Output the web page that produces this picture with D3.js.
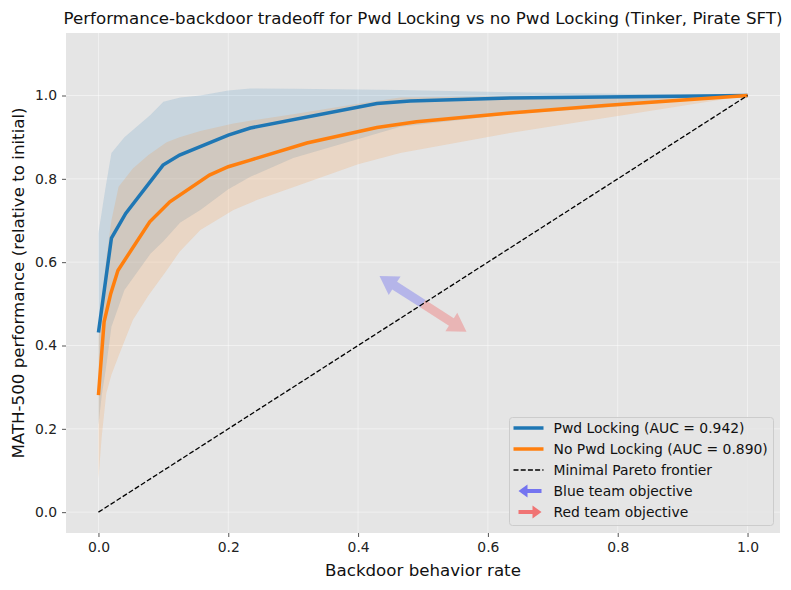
<!DOCTYPE html>
<html>
<head>
<meta charset="utf-8">
<script src="https://cdn.jsdelivr.net/npm/d3@7"></script>
<style>
  body { margin: 0; background: #fff; }
  text { font-family: "DejaVu Sans", sans-serif; }
</style>
</head>
<body>
<svg id="chart" width="791" height="590"></svg>
<script>
// --- data ---
var pwdX = [0, 0.02, 0.042, 0.0995, 0.125, 0.2, 0.234, 0.429, 0.48, 0.634, 1.0];
var pwdY = [0.431, 0.658, 0.717, 0.833, 0.857, 0.905, 0.922, 0.981, 0.987, 0.994, 1.0];
var pwdBandX = [0, 0.005, 0.011, 0.02, 0.04, 0.08, 0.1, 0.126, 0.157, 0.2, 0.234, 0.3, 0.465, 0.634, 0.772, 1.0];
var pwdBandHi = [0.67, 0.72, 0.78, 0.862, 0.90, 0.953, 0.985, 0.995, 1.0, 1.012, 1.017, 1.016, 1.013, 1.008, 1.005, 1.0];
var pwdBandLo = [0.21, 0.28, 0.34, 0.445, 0.533, 0.62, 0.65, 0.695, 0.725, 0.775, 0.805, 0.85, 0.925, 0.955, 0.97, 1.0];

var noPwdX = [0, 0.0087, 0.019, 0.03, 0.079, 0.11, 0.171, 0.2, 0.234, 0.321, 0.429, 0.49, 0.634, 0.78, 1.0];
var noPwdY = [0.281, 0.457, 0.525, 0.58, 0.697, 0.745, 0.809, 0.829, 0.845, 0.886, 0.923, 0.937, 0.958, 0.976, 1.0];
var noPwdBandX = [0, 0.005, 0.012, 0.02, 0.031, 0.053, 0.077, 0.105, 0.125, 0.157, 0.208, 0.244, 0.3, 0.4, 0.465, 0.634, 1.0];
var noPwdBandHi = [0.42, 0.49, 0.61, 0.70, 0.781, 0.825, 0.857, 0.888, 0.90, 0.915, 0.933, 0.942, 0.955, 0.98, 0.995, 0.998, 1.0];
var noPwdBandLo = [0.08, 0.181, 0.285, 0.33, 0.375, 0.461, 0.52, 0.58, 0.625, 0.677, 0.725, 0.749, 0.78, 0.835, 0.862, 0.91, 1.0];

var frontierX = [0, 1];
var frontierY = [0, 1];

var arrowStart = [0.5, 0.5];
var blueArrowEnd = [0.433, 0.567];
var redArrowEnd = [0.567, 0.433];

var xTicks = [0, 0.2, 0.4, 0.6, 0.8, 1.0];
var yTicks = [0, 0.2, 0.4, 0.6, 0.8, 1.0];

var legendLabels = ["Pwd Locking (AUC = 0.942)", "No Pwd Locking (AUC = 0.890)",
  "Minimal Pareto frontier", "Blue team objective", "Red team objective"];

// --- layout ---
var margin = { top: 33, right: 11, bottom: 57, left: 66 },
  width = 791 - margin.left - margin.right,
  height = 590 - margin.top - margin.bottom;

var blue = "#1f77b4", orange = "#ff7f0e";
var arrowBlue = "#6e6ef0", arrowRed = "#f06e6e";

var svg = d3.select("#chart");
var g = svg.append("g").attr("transform", "translate(" + margin.left + "," + margin.top + ")");

var x = d3.scaleLinear().domain([-0.05, 1.05]).range([0, width]);
var y = d3.scaleLinear().domain([-0.05, 1.15]).range([height, 0]);

// background + grid
g.append("rect").attr("width", width).attr("height", height).attr("fill", "#e5e5e5");

g.selectAll(".vgrid").data(xTicks).enter().append("line")
  .attr("x1", d => x(d)).attr("x2", d => x(d))
  .attr("y1", 0).attr("y2", height)
  .attr("stroke", "#fff").attr("stroke-opacity", 0.45).attr("stroke-width", 1);
g.selectAll(".hgrid").data(yTicks).enter().append("line")
  .attr("y1", d => y(d)).attr("y2", d => y(d))
  .attr("x1", 0).attr("x2", width)
  .attr("stroke", "#fff").attr("stroke-opacity", 0.45).attr("stroke-width", 1);

// bands
var area = d3.area().x(d => x(d[0])).y0(d => y(d[1])).y1(d => y(d[2]));
g.append("path")
  .attr("d", area(pwdBandX.map((v, i) => [v, pwdBandLo[i], pwdBandHi[i]])))
  .attr("fill", blue).attr("fill-opacity", 0.15);
g.append("path")
  .attr("d", area(noPwdBandX.map((v, i) => [v, noPwdBandLo[i], noPwdBandHi[i]])))
  .attr("fill", orange).attr("fill-opacity", 0.15);

// fat arrow polygon in pixel space
function arrowPoints(x0, y0, x1, y1, shaft, headW, headL) {
  var dx = x1 - x0, dy = y1 - y0, len = Math.sqrt(dx * dx + dy * dy);
  var ux = dx / len, uy = dy / len, px = -uy, py = ux;
  var bx = x1 - ux * headL, by = y1 - uy * headL;
  var s = shaft / 2, h = headW / 2;
  return [
    [x0 + px * s, y0 + py * s], [bx + px * s, by + py * s], [bx + px * h, by + py * h],
    [x1, y1],
    [bx - px * h, by - py * h], [bx - px * s, by - py * s], [x0 - px * s, y0 - py * s]
  ].map(p => p.join(",")).join(" ");
}

g.append("polygon")
  .attr("points", arrowPoints(x(arrowStart[0]), y(arrowStart[1]), x(blueArrowEnd[0]), y(blueArrowEnd[1]), 9, 22, 18))
  .attr("fill", arrowBlue).attr("fill-opacity", 0.4);
g.append("polygon")
  .attr("points", arrowPoints(x(arrowStart[0]), y(arrowStart[1]), x(redArrowEnd[0]), y(redArrowEnd[1]), 9, 22, 18))
  .attr("fill", arrowRed).attr("fill-opacity", 0.4);

// lines
var line = d3.line().x(d => x(d[0])).y(d => y(d[1]));
g.append("path")
  .attr("d", line(pwdX.map((v, i) => [v, pwdY[i]])))
  .attr("fill", "none").attr("stroke", blue).attr("stroke-width", 3.5);
g.append("path")
  .attr("d", line(noPwdX.map((v, i) => [v, noPwdY[i]])))
  .attr("fill", "none").attr("stroke", orange).attr("stroke-width", 3.5);
g.append("path")
  .attr("d", line(frontierX.map((v, i) => [v, frontierY[i]])))
  .attr("fill", "none").attr("stroke", "#000").attr("stroke-width", 1.3)
  .attr("stroke-dasharray", "5,2.2");

// axes
var xAxis = g.append("g").attr("transform", "translate(0," + height + ")")
  .call(d3.axisBottom(x).tickValues(xTicks).tickFormat(d3.format(".1f")).tickSize(4).tickPadding(5));
var yAxis = g.append("g")
  .call(d3.axisLeft(y).tickValues(yTicks).tickFormat(d3.format(".1f")).tickSize(4).tickPadding(5));
[xAxis, yAxis].forEach(function (ax) {
  ax.select(".domain").remove();
  ax.selectAll(".tick line").attr("stroke", "#555");
  ax.selectAll(".tick text").attr("fill", "#222").style("font-size", "13.9px")
    .style("font-family", "DejaVu Sans, sans-serif");
});

// labels
svg.append("text")
  .attr("x", margin.left + width / 2).attr("y", 24)
  .attr("text-anchor", "middle").style("font-size", "16.67px").attr("fill", "#111")
  .text("Performance-backdoor tradeoff for Pwd Locking vs no Pwd Locking (Tinker, Pirate SFT)");
svg.append("text")
  .attr("x", margin.left + width / 2).attr("y", 576)
  .attr("text-anchor", "middle").style("font-size", "16.67px").attr("fill", "#111")
  .text("Backdoor behavior rate");
svg.append("text")
  .attr("transform", "translate(24," + (margin.top + height / 2) + ") rotate(-90)")
  .attr("text-anchor", "middle").style("font-size", "16.67px").attr("fill", "#111")
  .text("MATH-500 performance (relative to initial)");

// legend
var lg = svg.append("g").attr("transform", "translate(509.5,417.5)");
lg.append("rect").attr("width", 264).attr("height", 108).attr("rx", 3)
  .attr("fill", "#e5e5e5").attr("fill-opacity", 0.8)
  .attr("stroke", "#cccccc").attr("stroke-width", 1);

var rowY = function (i) { return 10.5 + i * 21; };
lg.append("line").attr("x1", 4).attr("x2", 34).attr("y1", rowY(0)).attr("y2", rowY(0))
  .attr("stroke", blue).attr("stroke-width", 3.5);
lg.append("line").attr("x1", 4).attr("x2", 34).attr("y1", rowY(1)).attr("y2", rowY(1))
  .attr("stroke", orange).attr("stroke-width", 3.5);
lg.append("line").attr("x1", 4).attr("x2", 34).attr("y1", rowY(2)).attr("y2", rowY(2))
  .attr("stroke", "#000").attr("stroke-width", 1.3).attr("stroke-dasharray", "5,2.2");
lg.append("polygon").attr("points", arrowPoints(32, rowY(3), 9, rowY(3), 4, 13, 9))
  .attr("fill", arrowBlue).attr("fill-opacity", 0.95);
lg.append("polygon").attr("points", arrowPoints(9, rowY(4), 32, rowY(4), 4, 13, 9))
  .attr("fill", arrowRed).attr("fill-opacity", 0.95);

lg.selectAll(".lab").data(legendLabels).enter().append("text")
  .attr("x", 44).attr("y", (d, i) => rowY(i) + 5)
  .style("font-size", "13.9px").attr("fill", "#111")
  .text(d => d);
</script>
</body>
</html>
